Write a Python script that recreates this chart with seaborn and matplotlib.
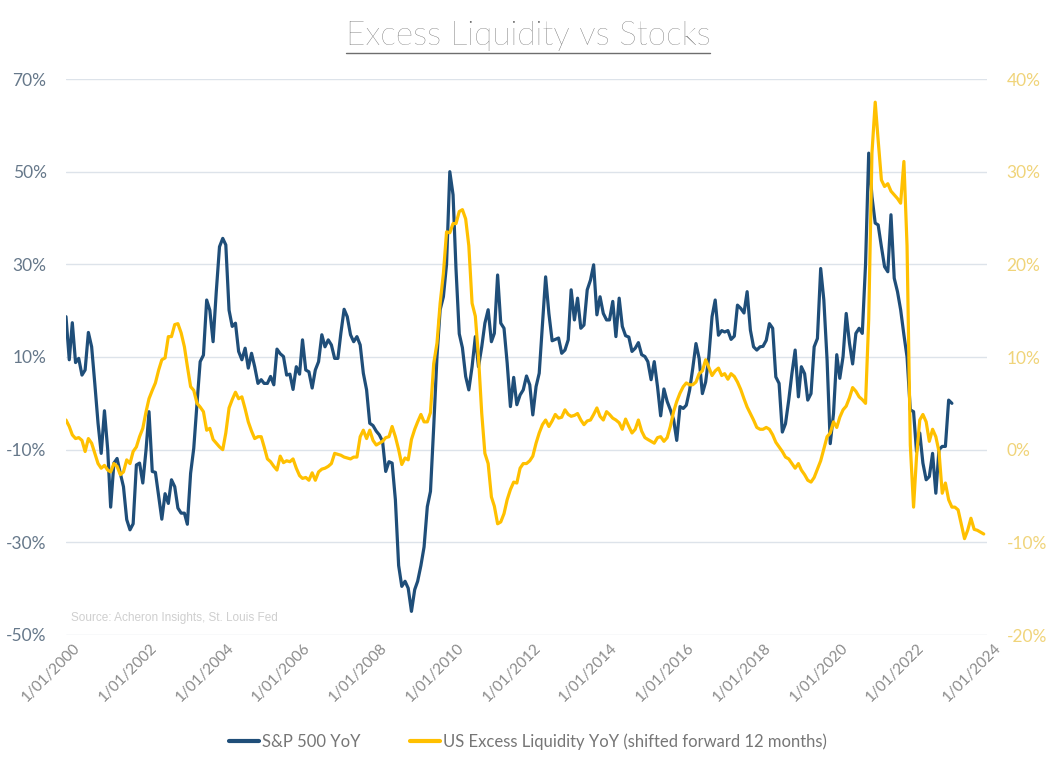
import matplotlib
matplotlib.use("Agg")
import matplotlib.pyplot as plt
import matplotlib.transforms as mtransforms
from matplotlib.lines import Line2D
from matplotlib.ticker import FuncFormatter, FixedLocator
import pandas as pd
import seaborn as sns

# ---------------- data (monthly, starting Jan 2000) ----------------
start_month = "2000-01-01"

sp500_yoy = [
    18.7, 9.4, 17.4, 8.8, 9.7, 6.1, 7.2, 15.3, 12.2, 4.3,
    -4.3, -10.8, -1.6, -10.0, -22.4, -12.9, -11.9, -15.1, -18.0, -25.1,
    -27.3, -26.0, -13.3, -12.9, -17.2, -10.0, -1.8, -14.7, -14.9, -20.1,
    -25.0, -19.5, -21.6, -16.5, -18.0, -22.6, -23.7, -23.7, -26.1, -15.1,
    -9.7, 0.0, 9.0, 10.4, 22.3, 20.1, 13.3, 24.0, 33.8, 35.6,
    34.2, 20.1, 16.6, 17.3, 11.2, 9.4, 11.9, 7.6, 10.8, 7.9,
    4.3, 5.1, 4.3, 4.3, 5.8, 4.0, 11.7, 10.7, 10.1, 6.1,
    6.3, 3.0, 7.9, 6.3, 13.7, 7.2, 6.8, 3.3, 7.2, 9.0,
    14.8, 12.2, 13.7, 12.6, 9.7, 9.7, 15.1, 20.3, 18.7, 14.8,
    13.3, 14.4, 12.6, 6.5, 2.9, -4.3, -4.8, -6.0, -6.8, -8.2,
    -14.7, -12.6, -12.9, -20.8, -35.0, -39.5, -38.4, -39.9, -44.9, -40.2,
    -38.4, -35.0, -31.0, -22.3, -19.0, -5.0, 10.1, 20.2, 23.0, 30.0,
    50.0, 45.0, 29.0, 15.0, 12.0, 5.8, 2.9, 7.9, 14.4, 7.9,
    12.2, 17.3, 20.2, 13.3, 15.1, 27.7, 17.3, 16.2, 8.7, -0.7,
    5.6, -0.3, 1.8, 2.9, 5.9, 4.0, -2.5, 3.6, 6.5, 17.0,
    27.3, 19.4, 13.5, 13.8, 14.1, 10.8, 11.5, 13.7, 24.5, 18.0,
    22.7, 16.2, 16.9, 24.5, 26.6, 29.9, 19.1, 23.0, 19.4, 18.0,
    18.0, 22.0, 14.4, 22.7, 16.6, 14.6, 14.3, 11.2, 11.9, 13.1,
    10.5, 10.1, 9.0, 5.1, 9.0, 3.6, -2.7, 3.1, 0.4, -1.4,
    -3.5, -8.0, -0.7, -1.1, -0.4, 2.8, 7.5, 12.9, 9.7, 2.1,
    4.6, 10.0, 18.7, 22.3, 14.7, 15.7, 15.4, 15.7, 13.8, 14.5,
    21.2, 20.5, 19.5, 24.1, 15.8, 12.2, 11.5, 12.2, 12.3, 13.6,
    17.2, 16.2, 5.7, 4.3, -6.2, -4.4, 0.7, 6.4, 11.5, 1.4,
    7.9, 6.4, 0.7, 2.1, 12.2, 14.0, 29.1, 22.3, 9.3, -8.7,
    -2.2, 10.5, 5.4, 10.1, 19.4, 13.0, 8.5, 15.1, 16.2, 15.1,
    30.0, 54.0, 44.6, 38.9, 38.5, 33.8, 29.5, 28.4, 40.7, 27.0,
    24.1, 20.2, 14.8, 10.0, -1.4, -1.8, -10.4, -6.4, -12.9, -16.5,
    -15.8, -10.8, -19.4, -10.0, -9.3, -9.3, 0.7, 0.0,
]

liquidity_yoy = [
    3.2, 2.5, 1.6, 1.2, 1.3, 1.0, -0.2, 1.2, 0.7, -0.4,
    -1.5, -2.0, -1.7, -2.2, -2.4, -1.5, -1.8, -2.7, -2.4, -1.1,
    -1.5, -0.2, 0.3, 1.4, 2.3, 4.1, 5.5, 6.4, 7.2, 8.6,
    9.7, 9.9, 12.2, 12.2, 13.5, 13.6, 12.6, 11.1, 9.0, 6.8,
    6.4, 5.0, 4.6, 4.1, 2.1, 2.3, 1.1, 0.7, 0.3, 0.0,
    1.8, 4.5, 5.4, 6.2, 5.5, 5.7, 4.4, 3.0, 2.0, 1.2,
    1.4, 1.4, 0.3, -1.0, -1.3, -1.8, -2.2, -0.7, -1.4, -1.2,
    -1.3, -1.0, -2.0, -2.8, -3.1, -3.0, -3.3, -2.5, -3.3, -2.4,
    -2.1, -2.0, -1.8, -1.5, -0.4, -0.5, -0.6, -0.8, -0.9, -1.0,
    -0.8, -0.8, 1.4, 2.1, 1.2, 2.1, 1.0, 0.5, 0.7, 0.9,
    1.3, 1.4, 2.5, 1.4, 0.0, -1.6, -0.9, -1.1, 1.1, 2.2,
    3.0, 3.8, 3.0, 3.0, 4.0, 9.3, 11.5, 15.8, 19.0, 23.5,
    23.4, 24.4, 24.4, 25.7, 25.9, 24.9, 22.0, 15.8, 14.4, 10.0,
    3.9, -0.4, -1.5, -5.1, -6.1, -8.0, -7.8, -6.9, -5.4, -4.3,
    -3.5, -3.6, -2.0, -1.5, -1.5, -1.2, -0.7, 0.7, 1.8, 2.7,
    3.2, 2.5, 3.1, 3.8, 3.4, 3.5, 4.3, 3.8, 3.6, 3.7,
    3.9, 3.2, 2.7, 3.1, 3.2, 3.8, 4.5, 3.6, 3.2, 4.1,
    3.8, 3.4, 3.2, 2.9, 2.2, 3.3, 2.5, 1.8, 2.2, 3.2,
    2.0, 1.3, 1.1, 0.9, 0.7, 1.3, 1.4, 0.9, 1.3, 2.5,
    4.1, 5.2, 6.1, 6.8, 7.2, 7.0, 7.0, 7.3, 8.2, 8.5,
    9.7, 8.9, 8.0, 8.5, 8.8, 8.0, 8.2, 7.6, 8.2, 7.9,
    7.3, 6.5, 5.5, 4.6, 3.9, 3.2, 2.4, 2.2, 2.2, 2.4,
    2.2, 1.6, 0.8, 0.3, -0.2, -0.8, -1.0, -1.5, -2.0, -1.5,
    -2.2, -2.7, -3.3, -3.5, -3.0, -2.1, -1.2, 0.1, 1.4, 1.8,
    3.0, 2.4, 3.5, 4.3, 4.7, 5.6, 6.7, 6.3, 5.7, 5.4,
    5.0, 14.0, 32.0, 37.5, 33.4, 29.1, 28.4, 28.7, 27.9, 27.5,
    27.1, 26.6, 31.1, 22.0, 0.5, -6.2, -0.8, 3.2, 3.8, 3.0,
    0.9, 2.2, 1.4, -0.2, -4.7, -3.6, -5.4, -6.2, -6.2, -6.5,
    -8.0, -9.6, -8.7, -7.4, -8.6, -8.7, -8.9, -9.1,
]

x_tick_years = list(range(2000, 2025, 2))
left_ticks = [-50, -30, -10, 10, 30, 50, 70]
right_ticks = [-20, -10, 0, 10, 20, 30, 40]

title_text = "Excess Liquidity vs Stocks"
sp_label = "S&P 500 YoY"
liq_label = "US Excess Liquidity YoY (shifted forward 12 months)"
source_text = "Source: Acheron Insights, St. Louis Fed"

# ---------------- style ----------------
BLUE = "#1f4e79"
GOLD = "#ffc000"
LEFT_TXT = "#66788a"
RIGHT_TXT = "#f0d47a"
GRID = "#dde3ea"
GREY_TXT = "#767676"

sns.set_theme(style="white")
plt.rcParams["font.family"] = ["Lato", "DejaVu Sans"]

fig = plt.figure(figsize=(10.56, 7.68), dpi=100)
ax = fig.add_axes([66 / 1056, 1 - 635 / 768, (987 - 66) / 1056, (635 - 79) / 768])
ax2 = ax.twinx()

sp_df = pd.DataFrame({
    "date": pd.date_range(start_month, periods=len(sp500_yoy), freq="MS"),
    "value": sp500_yoy,
})
liq_df = pd.DataFrame({
    "date": pd.date_range(start_month, periods=len(liquidity_yoy), freq="MS"),
    "value": liquidity_yoy,
})

sns.lineplot(data=sp_df, x="date", y="value", ax=ax, color=BLUE, linewidth=2.3,
             legend=False)
sns.lineplot(data=liq_df, x="date", y="value", ax=ax2, color=GOLD, linewidth=2.3,
             legend=False)

xmin = pd.Timestamp(f"{x_tick_years[0]}-01-01")
xmax = pd.Timestamp(f"{x_tick_years[-1]}-01-01")
ax.set_xlim(xmin, xmax)
ax.set_ylim(left_ticks[0], left_ticks[-1])
ax2.set_ylim(right_ticks[0], right_ticks[-1])

for a in (ax, ax2):
    for s in a.spines.values():
        s.set_visible(False)
    a.set_xlabel("")
    a.set_ylabel("")
    a.tick_params(length=0)

ax.yaxis.set_major_locator(FixedLocator(left_ticks))
ax.yaxis.set_major_formatter(FuncFormatter(lambda v, p: f"{v:.0f}%"))
ax2.yaxis.set_major_locator(FixedLocator(right_ticks))
ax2.yaxis.set_major_formatter(FuncFormatter(lambda v, p: f"{v:.0f}%"))
ax.tick_params(axis="y", pad=14, labelsize=12.5, labelcolor=LEFT_TXT)
ax2.tick_params(axis="y", pad=14, labelsize=12.5, labelcolor=RIGHT_TXT)

ax.grid(True, axis="y", color=GRID, linewidth=1.0)
ax.grid(False, axis="x")
ax.set_axisbelow(True)

tick_dates = [pd.Timestamp(f"{y}-01-01") for y in x_tick_years]
ax.set_xticks(tick_dates)
ax.set_xticklabels([f"1/01/{y}" for y in x_tick_years])
ax.tick_params(axis="x", pad=4, labelsize=11, labelcolor="#8a8a8a")
offset = mtransforms.ScaledTranslation(7 / 100, 0, fig.dpi_scale_trans)
for lbl in ax.get_xticklabels():
    lbl.set_rotation(45)
    lbl.set_ha("right")
    lbl.set_va("top")
    lbl.set_rotation_mode("anchor")
    lbl.set_transform(lbl.get_transform() + offset)

ax.text(0.005, 0.02, source_text, transform=ax.transAxes, fontsize=8.5,
        color="#cfcfcf", family=["Liberation Sans", "DejaVu Sans"],
        ha="left", va="bottom")

# title with underline
t = fig.text(0.5, 1 - 36 / 768, title_text, ha="center", va="center",
             fontsize=24, color="#5e5e5e", fontweight="light")
fig.canvas.draw()
bb = t.get_window_extent(renderer=fig.canvas.get_renderer())
W, H = fig.bbox.width, fig.bbox.height
uy = (bb.y0 - 2) / H
fig.add_artist(Line2D([bb.x0 / W, bb.x1 / W], [uy, uy], color="#6e6e6e",
                      linewidth=1.0, transform=fig.transFigure))

handles = [Line2D([], [], color=BLUE, linewidth=3),
           Line2D([], [], color=GOLD, linewidth=3)]
fig.legend(handles, [sp_label, liq_label], loc="center",
           bbox_to_anchor=(0.5, 1 - 742 / 768), ncol=2, frameon=False,
           fontsize=12, labelcolor=GREY_TXT, handlelength=1.8,
           handletextpad=0.15, columnspacing=3.0)

fig.savefig("out.png", dpi=100)
